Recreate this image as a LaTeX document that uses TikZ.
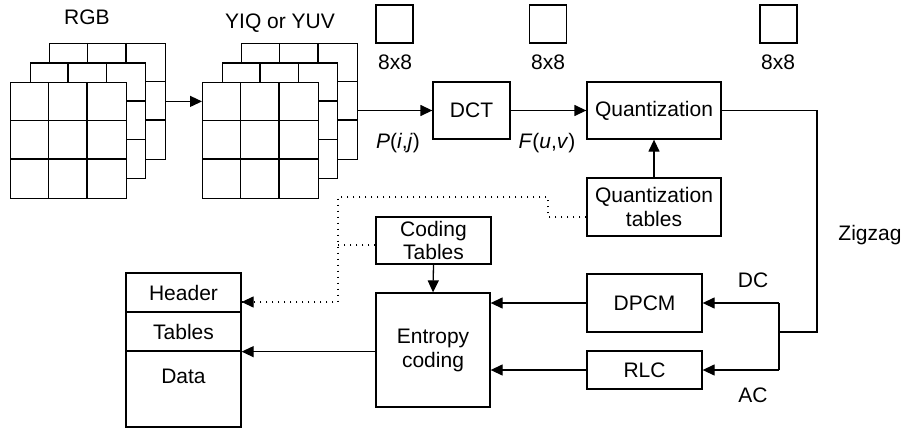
\documentclass[tikz,border=0pt]{standalone}
\usepackage{fontspec}
\setmainfont{Liberation Sans}
\usetikzlibrary{arrows.meta}
\begin{document}
\begin{tikzpicture}[x=1pt,y=-1pt,
  line width=1.3pt,
  font=\fontsize{21}{24}\selectfont,
  box/.style={draw,fill=white,inner sep=0pt,align=center},
  gridbox/.style={draw,fill=white,anchor=north west,minimum width=115.5pt,minimum height=115.5pt,inner sep=0pt},
  arr/.style={-{Triangle[length=12pt,width=11pt]}},
  dotline/.style={line width=1.2pt,dash pattern=on 1pt off 5pt},
  lbl/.style={inner sep=0pt}]
\useasboundingbox (0,0) rectangle (910,428);
% grids
\foreach \gx/\gy/\nm in {49/43/rgbB,29.5/62.5/rgbM,10/82/rgbF,241/43/yiqB,221.5/62.5/yiqM,202/82/yiqF}{
  \node[gridbox] (\nm) at (\gx,\gy) {};
  \draw (\gx+38.5,\gy) -- (\gx+38.5,\gy+115.5);
  \draw (\gx+77,\gy) -- (\gx+77,\gy+115.5);
  \draw (\gx,\gy+38.5) -- (\gx+115.5,\gy+38.5);
  \draw (\gx,\gy+77) -- (\gx+115.5,\gy+77);
}
\node[lbl] (rgbl) at (87,17) {RGB};
\node[lbl] (yiql) at (280,23) {YIQ or YUV};
% 8x8 squares
\node[draw,minimum width=37pt,minimum height=38pt,inner sep=0pt] (s1) at (394.5,24) {};
\node[draw,minimum width=37pt,minimum height=38pt,inner sep=0pt] (s2) at (548,24) {};
\node[draw,minimum width=37pt,minimum height=38pt,inner sep=0pt] (s3) at (778.5,24) {};
\node[lbl] (s1l) at (395,62) {8x8};
\node[lbl] (s2l) at (548,62) {8x8};
\node[lbl] (s3l) at (778,62) {8x8};
% boxes
\node[box,minimum width=77pt,minimum height=57pt] (dct) at (471.5,110.5) {DCT};
\node[box,minimum width=134pt,minimum height=57pt] (quant) at (654,110.5) {Quantization};
\node[box,minimum width=134pt,minimum height=58pt] (qtab) at (654,207) {Quantization\\tables};
\node[box,minimum width=115pt,minimum height=58pt] (dpcm) at (644.5,303) {DPCM};
\node[box,minimum width=115pt,minimum height=38pt] (rlc) at (644.5,370) {RLC};
\node[box,minimum width=114pt,minimum height=114pt] (ent) at (433,350) {Entropy\\coding};
\node[box,minimum width=115pt,minimum height=47pt] (ctab) at (433.5,240.5) {Coding\\[-1pt]Tables};
\node[box,minimum width=115pt,minimum height=39pt] (hdr) at (183.5,292.5) {Header};
\node[box,minimum width=115pt,minimum height=39pt] (tbl) at (183.5,331.5) {Tables};
\node[box,minimum width=115pt,minimum height=76pt] (data) at (183.5,389) {};
\node[lbl] (datal) at (183.5,376) {Data};
% labels
\node[lbl] (pij) at (398,143) {\textit{P}(\textit{i},\textit{j})};
\node[lbl] (fuv) at (547,143) {\textit{F}(\textit{u},\textit{v})};
\node[lbl] (zz) at (870,235) {Zigzag};
\node[lbl] (dcl) at (753,280) {DC};
\node[lbl] (acl) at (753,395) {AC};
% connectors
\draw[arr] (rgbB.east) -- (rgbB.east -| yiqF.west);
\draw[arr] (yiqB.east |- dct.west) -- (dct.west);
\draw[arr] (dct.east) -- (quant.west);
\draw[arr] (qtab.north) -- (quant.south);
\coordinate (zr) at (817,110.5);
\coordinate (zb) at (817,332);
\coordinate (br) at (779,332);
\coordinate (bt) at (779,303);
\coordinate (bb) at (779,370);
\draw (quant.east) -- (zr) -- (zb) -- (br);
\draw (bt) -- (bb);
\draw[arr] (bt) -- (dpcm.east);
\draw[arr] (bb) -- (rlc.east);
\draw[arr] (dpcm.west) -- (dpcm.west -| ent.east);
\draw[arr] (rlc.west) -- (rlc.west -| ent.east);
\draw[arr] (ctab.south) -- (ent.north);
\draw[arr] (ent.west |- tbl.south) -- (tbl.south east);
% dotted
\coordinate (d1) at (548,217);
\coordinate (d2) at (548,197);
\coordinate (d3) at (338,197);
\coordinate (d4) at (338,302);
\coordinate (d5) at (338,245);
\draw[dotline] (qtab.west |- d1) -- (d1) -- (d2) -- (d3) -- (d4) -- (d4 -| hdr.east);
\draw[arr] (d4 -| hdr.east) ++(6,0) -- (d4 -| hdr.east);
\draw[dotline] (ctab.west |- d5) -- (d5);
\end{tikzpicture}
\end{document}
